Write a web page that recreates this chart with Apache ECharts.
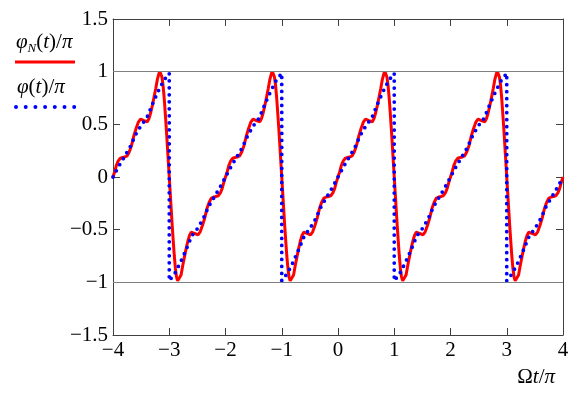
<!DOCTYPE html>
<html>
<head>
<meta charset="utf-8">
<script src="https://cdn.jsdelivr.net/npm/echarts@6/dist/echarts.min.js"></script>
<style>
  html, body { margin: 0; padding: 0; background: #fff; }
  #chart { width: 585px; height: 403px; }
</style>
</head>
<body>
<div id="chart"></div>
<script>
// phi_N(t)/pi, one array per "tooth"
const phiN_x1 = [-4, -3.97, -3.94, -3.91, -3.87, -3.83, -3.79, -3.75, -3.71, -3.67, -3.63, -3.59, -3.55, -3.51, -3.48, -3.45, -3.42, -3.39, -3.36, -3.33, -3.3, -3.27, -3.24, -3.21, -3.185, -3.167, -3.15, -3.13, -3.11, -3.09, -3.07, -3.05, -3.025, -3];
const phiN_y1 = [0, .05, .11, .15, .178, .185, .19, .2, .24, .3, .39, .46, .52, .55, .553, .535, .518, .525, .555, .61, .68, .76, .84, .93, .98, 1, .985, .95, .87, .75, .6, .44, .22, 0];

const phiN_x2 = [-2.975, -2.95, -2.93, -2.91, -2.89, -2.87, -2.85, -2.833, -2.815, -2.79, -2.76, -2.73, -2.7, -2.67, -2.64, -2.61, -2.58, -2.55, -2.52, -2.49, -2.45, -2.41, -2.37, -2.33, -2.29, -2.25, -2.21, -2.17, -2.13, -2.09, -2.06, -2.03, -2,
  -1.97, -1.94, -1.91, -1.87, -1.83, -1.79, -1.75, -1.71, -1.67, -1.63, -1.59, -1.55, -1.51, -1.48, -1.45, -1.42, -1.39, -1.36, -1.33, -1.3, -1.27, -1.24, -1.21, -1.185, -1.167, -1.15, -1.13, -1.11, -1.09, -1.07, -1.05, -1.025, -1];
const phiN_y2 = [-.22, -.44, -.6, -.75, -.87, -.95, -.985, -1, -.98, -.93, -.84, -.76, -.68, -.61, -.555, -.525, -.518, -.535, -.553, -.55, -.52, -.46, -.39, -.3, -.24, -.2, -.19, -.185, -.178, -.15, -.11, -.05, 0,
  .05, .11, .15, .178, .185, .19, .2, .24, .3, .39, .46, .52, .55, .553, .535, .518, .525, .555, .61, .68, .76, .84, .93, .98, 1, .985, .95, .87, .75, .6, .44, .22, 0];

const phiN_x3 = [-0.975, -0.95, -0.93, -0.91, -0.89, -0.87, -0.85, -0.833, -0.815, -0.79, -0.76, -0.73, -0.7, -0.67, -0.64, -0.61, -0.58, -0.55, -0.52, -0.49, -0.45, -0.41, -0.37, -0.33, -0.29, -0.25, -0.21, -0.17, -0.13, -0.09, -0.06, -0.03, 0,
  0.03, 0.06, 0.09, 0.13, 0.17, 0.21, 0.25, 0.29, 0.33, 0.37, 0.41, 0.45, 0.49, 0.52, 0.55, 0.58, 0.61, 0.64, 0.67, 0.7, 0.73, 0.76, 0.79, 0.815, 0.833, 0.85, 0.87, 0.89, 0.91, 0.93, 0.95, 0.975, 1];
const phiN_y3 = [-.22, -.44, -.6, -.75, -.87, -.95, -.985, -1, -.98, -.93, -.84, -.76, -.68, -.61, -.555, -.525, -.518, -.535, -.553, -.55, -.52, -.46, -.39, -.3, -.24, -.2, -.19, -.185, -.178, -.15, -.11, -.05, 0,
  .05, .11, .15, .178, .185, .19, .2, .24, .3, .39, .46, .52, .55, .553, .535, .518, .525, .555, .61, .68, .76, .84, .93, .98, 1, .985, .95, .87, .75, .6, .44, .22, 0];

const phiN_x4 = [1.025, 1.05, 1.07, 1.09, 1.11, 1.13, 1.15, 1.167, 1.185, 1.21, 1.24, 1.27, 1.3, 1.33, 1.36, 1.39, 1.42, 1.45, 1.48, 1.51, 1.55, 1.59, 1.63, 1.67, 1.71, 1.75, 1.79, 1.83, 1.87, 1.91, 1.94, 1.97, 2,
  2.03, 2.06, 2.09, 2.13, 2.17, 2.21, 2.25, 2.29, 2.33, 2.37, 2.41, 2.45, 2.49, 2.52, 2.55, 2.58, 2.61, 2.64, 2.67, 2.7, 2.73, 2.76, 2.79, 2.815, 2.833, 2.85, 2.87, 2.89, 2.91, 2.93, 2.95, 2.975, 3];
const phiN_y4 = [-.22, -.44, -.6, -.75, -.87, -.95, -.985, -1, -.98, -.93, -.84, -.76, -.68, -.61, -.555, -.525, -.518, -.535, -.553, -.55, -.52, -.46, -.39, -.3, -.24, -.2, -.19, -.185, -.178, -.15, -.11, -.05, 0,
  .05, .11, .15, .178, .185, .19, .2, .24, .3, .39, .46, .52, .55, .553, .535, .518, .525, .555, .61, .68, .76, .84, .93, .98, 1, .985, .95, .87, .75, .6, .44, .22, 0];

const phiN_x5 = [3.025, 3.05, 3.07, 3.09, 3.11, 3.13, 3.15, 3.167, 3.185, 3.21, 3.24, 3.27, 3.3, 3.33, 3.36, 3.39, 3.42, 3.45, 3.48, 3.51, 3.55, 3.59, 3.63, 3.67, 3.71, 3.75, 3.79, 3.83, 3.87, 3.91, 3.94, 3.97, 4];
const phiN_y5 = [-.22, -.44, -.6, -.75, -.87, -.95, -.985, -1, -.98, -.93, -.84, -.76, -.68, -.61, -.555, -.525, -.518, -.535, -.553, -.55, -.52, -.46, -.39, -.3, -.24, -.2, -.19, -.185, -.178, -.15, -.11, -.05, 0];

// phi(t)/pi (dotted)
const phi_x1 = [-4, -3.9, -3.8, -3.7, -3.6, -3.5, -3.4, -3.3, -3.2, -3.1, -3];
const phi_y1 = [0, .1, .19, .28, .4, .49, .56, .69, .81, .915, .985];
const phi_x2 = [-3, -2.9, -2.8, -2.7, -2.6, -2.5, -2.4, -2.3, -2.2, -2.1, -2, -1.9, -1.8, -1.7, -1.6, -1.5, -1.4, -1.3, -1.2, -1.1, -1];
const phi_y2 = [-.985, -.915, -.81, -.69, -.56, -.49, -.4, -.28, -.19, -.1, 0, .1, .19, .28, .4, .49, .56, .69, .81, .915, .985];
const phi_x3 = [-1, -0.9, -0.8, -0.7, -0.6, -0.5, -0.4, -0.3, -0.2, -0.1, 0, 0.1, 0.2, 0.3, 0.4, 0.5, 0.6, 0.7, 0.8, 0.9, 1];
const phi_y3 = [-.985, -.915, -.81, -.69, -.56, -.49, -.4, -.28, -.19, -.1, 0, .1, .19, .28, .4, .49, .56, .69, .81, .915, .985];
const phi_x4 = [1, 1.1, 1.2, 1.3, 1.4, 1.5, 1.6, 1.7, 1.8, 1.9, 2, 2.1, 2.2, 2.3, 2.4, 2.5, 2.6, 2.7, 2.8, 2.9, 3];
const phi_y4 = [-.985, -.915, -.81, -.69, -.56, -.49, -.4, -.28, -.19, -.1, 0, .1, .19, .28, .4, .49, .56, .69, .81, .915, .985];
const phi_x5 = [3, 3.1, 3.2, 3.3, 3.4, 3.5, 3.6, 3.7, 3.8, 3.9, 4];
const phi_y5 = [-.985, -.915, -.81, -.69, -.56, -.49, -.4, -.28, -.19, -.1, 0];

// axes
const xTicks = [-4, -3, -2, -1, 0, 1, 2, 3, 4];
const yTicks = [-1.5, -1, -0.5, 0, 0.5, 1, 1.5];
const refLevels = [1, -1];

const zip = (xs, ys) => xs.map((x, i) => [x, ys[i]]);
const phiN = [].concat(
  zip(phiN_x1, phiN_y1), zip(phiN_x2, phiN_y2), zip(phiN_x3, phiN_y3),
  zip(phiN_x4, phiN_y4), zip(phiN_x5, phiN_y5)
);
const phi = [].concat(
  zip(phi_x1, phi_y1), zip(phi_x2, phi_y2), zip(phi_x3, phi_y3),
  zip(phi_x4, phi_y4), zip(phi_x5, phi_y5)
);

const serif = 'Liberation Serif';
const fs = 21;
const minus = v => String(v).replace('-', '\u2212');
const frame = '#404040';

const chart = echarts.init(document.getElementById('chart'));

const tickAxis = () => ({
  axisLine: { show: true, onZero: false, lineStyle: { color: frame, width: 1 } },
  axisTick: { show: true, inside: true, length: 7, lineStyle: { color: frame } },
  splitLine: { show: false }
});

chart.setOption({
  animation: false,
  grid: { left: 113, right: 22, top: 19, bottom: 68 },
  xAxis: [
    Object.assign({
      type: 'value', min: xTicks[0], max: xTicks[xTicks.length - 1], interval: 1,
      axisLabel: { formatter: minus, fontFamily: serif, fontSize: fs, color: '#000', margin: 5 }
    }, tickAxis()),
    Object.assign({
      type: 'value', position: 'top', min: xTicks[0], max: xTicks[xTicks.length - 1], interval: 1,
      axisLabel: { show: false }
    }, tickAxis())
  ],
  yAxis: [
    Object.assign({
      type: 'value', min: yTicks[0], max: yTicks[yTicks.length - 1], interval: 0.5,
      axisLabel: { formatter: minus, fontFamily: serif, fontSize: fs, color: '#000', margin: 5 }
    }, tickAxis()),
    Object.assign({
      type: 'value', position: 'right', min: yTicks[0], max: yTicks[yTicks.length - 1], interval: 0.5,
      axisLabel: { show: false }
    }, tickAxis())
  ],
  series: [
    {
      type: 'line', data: [], z: 1, silent: true,
      markLine: {
        silent: true, symbol: 'none', label: { show: false },
        lineStyle: { color: '#808080', type: 'solid', width: 1 },
        data: refLevels.map(v => ({ yAxis: v }))
      }
    },
    {
      name: 'phiN', type: 'line', data: phiN, showSymbol: false, z: 3,
      lineStyle: { color: '#ff0000', width: 3 }
    },
    {
      name: 'phi', type: 'line', data: phi, showSymbol: false, z: 4,
      lineStyle: { color: '#0000ff', width: 3.8, type: [0, 7], cap: 'round' }
    }
  ],
  graphic: [
    {
      type: 'text', left: 16, top: 32,
      style: {
        text: '{i|φ}{s|N}{n|(}{i|t}{n|)/}{i|π}',
        rich: {
          i: { fontFamily: serif, fontStyle: 'italic', fontSize: fs, fill: '#000', verticalAlign: 'top', lineHeight: 24 },
          n: { fontFamily: serif, fontSize: fs, fill: '#000', verticalAlign: 'top', lineHeight: 24 },
          s: { fontFamily: serif, fontStyle: 'italic', fontSize: 13, fill: '#000', verticalAlign: 'top', padding: [10, 0, 0, 0], lineHeight: 15 }
        }
      }
    },
    { type: 'line', shape: { x1: 15, y1: 62, x2: 75, y2: 62 }, style: { stroke: '#ff0000', lineWidth: 3 } },
    {
      type: 'text', left: 17, top: 77,
      style: {
        text: '{i|φ}{n|(}{i|t}{n|)/}{i|π}',
        rich: {
          i: { fontFamily: serif, fontStyle: 'italic', fontSize: fs, fill: '#000' },
          n: { fontFamily: serif, fontSize: fs, fill: '#000' }
        }
      }
    },
    {
      type: 'line', shape: { x1: 16, y1: 107, x2: 75, y2: 107 },
      style: { stroke: '#0000ff', lineWidth: 4, lineDash: [0, 9.7], lineCap: 'round' }
    },
    {
      type: 'text', right: 30, top: 367,
      style: {
        text: '{n|Ω}{i|t}{n|/}{i|π}',
        rich: {
          i: { fontFamily: serif, fontStyle: 'italic', fontSize: fs, fill: '#000' },
          n: { fontFamily: serif, fontSize: fs, fill: '#000' }
        }
      }
    }
  ]
});
</script>
</body>
</html>
